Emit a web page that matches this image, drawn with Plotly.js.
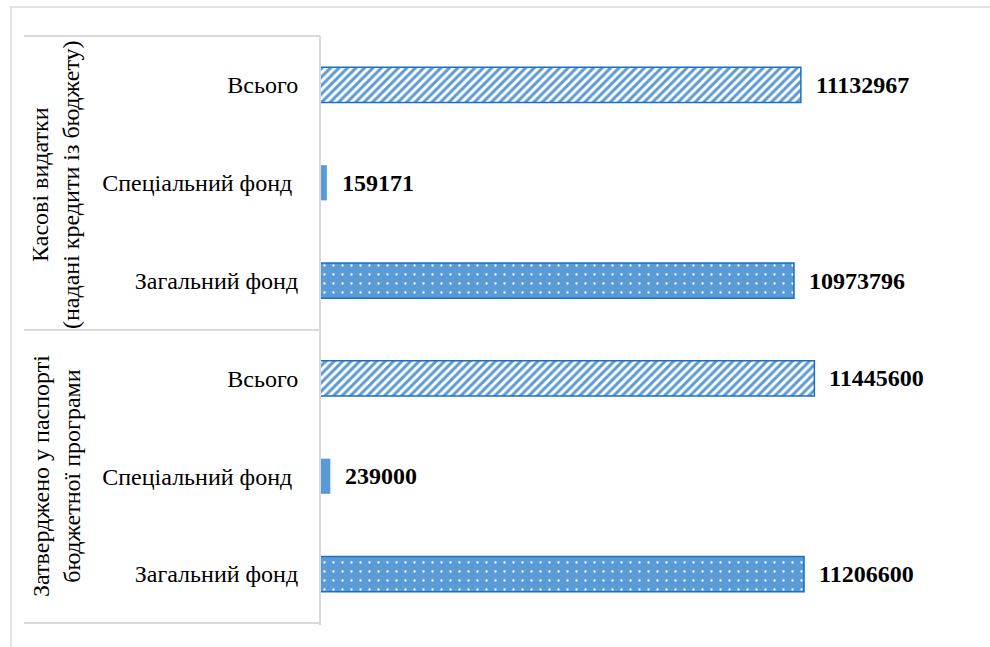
<!DOCTYPE html>
<html>
<head>
<meta charset="utf-8">
<script src="https://cdn.plot.ly/plotly-3.0.1.min.js"></script>
<style>html,body{margin:0;padding:0;background:#fff;}#chart{width:990px;height:647px;}</style>
</head>
<body>
<div id="chart"></div>
<script>
// Data (top to bottom)
const groups = ["Касові видатки<br>(надані кредити із бюджету)", "Затверджено у паспорті<br>бюджетної програми"];
const categories = ["Всього", "Спеціальний фонд", "Загальний фонд"];
const cashValues = [11132967, 159171, 10973796];
const approvedValues = [11445600, 239000, 11206600];

const groupValues = [cashValues, approvedValues];
const keys = [], labels = [], values = [];
groups.forEach((g, gi) => {
  categories.forEach((c, ci) => {
    keys.push("g" + gi + "|" + c);
    labels.push(c);
    values.push(groupValues[gi][ci]);
  });
});

const FONT = "Liberation Serif";
const blue = "#5B9BD5";
const edge = "#1C6FC2";
const styleByCat = {
  "Всього": {pattern: {shape: "/", fgcolor: blue, bgcolor: "#ffffff", solidity: 0.5, size: 6}, color: "#ffffff", line: {color: edge, width: 1.5}},
  "Спеціальний фонд": {pattern: null, color: blue, line: {color: blue, width: 0}},
  "Загальний фонд": {pattern: {shape: ".", fgcolor: "#ffffff", bgcolor: blue, solidity: 0.05, size: 9}, color: blue, line: {color: edge, width: 1.5}}
};

const traces = categories.map(c => {
  const s = styleByCat[c];
  const xs = [], ys = [];
  keys.forEach((k, i) => { if (labels[i] === c) { xs.push(values[i]); ys.push(k); } });
  const marker = {color: s.color, line: s.line};
  if (s.pattern) marker.pattern = s.pattern;
  return {type: "bar", orientation: "h", x: xs, y: ys, marker: marker, hoverinfo: "none", name: c};
});

// layout geometry helpers (pixels -> paper)
const L = 320, R = 980, T = 36, B = 623;
const px = v => (v - L) / (R - L);
const py = v => (B - v) / (B - T);
const grey = "#D9D9D9";

const annotations = keys.map((k, i) => ({
  x: values[i], y: k, xref: "x", yref: "y",
  text: "<b>" + String(values[i]) + "</b>",
  showarrow: false, xanchor: "left", yanchor: "middle", xshift: 13,
  font: {family: FONT, size: 24, color: "#000"}
}));
annotations.push({
  x: px(56), y: py(185), xref: "paper", yref: "paper",
  text: groups[0], textangle: -90, showarrow: false,
  xanchor: "center", yanchor: "middle",
  font: {family: FONT, size: 24, color: "#000"}
});
annotations.push({
  x: px(56), y: py(476), xref: "paper", yref: "paper",
  text: groups[1], textangle: -90, showarrow: false,
  xanchor: "center", yanchor: "middle",
  font: {family: FONT, size: 24, color: "#000"}
});

const shapes = [
  {type: "rect", xref: "paper", yref: "paper", x0: px(11), x1: 1.2, y0: py(7), y1: -0.2, line: {color: grey, width: 1.5}},
  {type: "line", xref: "paper", yref: "paper", x0: px(24), x1: 0, y0: py(36), y1: py(36), line: {color: grey, width: 2}},
  {type: "line", xref: "paper", yref: "paper", x0: px(24), x1: 0, y0: py(330), y1: py(330), line: {color: grey, width: 2}},
  {type: "line", xref: "paper", yref: "paper", x0: px(24), x1: 0, y0: py(623), y1: py(623), line: {color: grey, width: 2}},
  {type: "line", xref: "paper", yref: "paper", x0: 0, x1: 0, y0: py(36), y1: py(625), line: {color: grey, width: 2}}
];

const layout = {
  width: 990, height: 647,
  margin: {l: L, r: 990 - R, t: T, b: 647 - B, pad: 0},
  paper_bgcolor: "#fff", plot_bgcolor: "#fff",
  showlegend: false,
  barmode: "overlay",
  bargap: 0.64,
  font: {family: FONT, size: 24, color: "#000"},
  xaxis: {range: [0, 15280000], showgrid: false, zeroline: false, showline: false, showticklabels: false, ticks: "", fixedrange: true},
  yaxis: {
    type: "category",
    categoryorder: "array", categoryarray: keys,
    tickmode: "array", tickvals: keys,
    ticktext: labels.map(l => l === "Спеціальний фонд" ? l + "\u00A0" : l),
    autorange: "reversed",
    showgrid: false, zeroline: false, showline: false,
    ticks: "outside", ticklen: 16, tickcolor: "rgba(0,0,0,0)",
    tickfont: {family: FONT, size: 24, color: "#000"},
    fixedrange: true
  },
  annotations: annotations,
  shapes: shapes
};

Plotly.newPlot("chart", traces, layout, {staticPlot: true, displayModeBar: false});
</script>
</body>
</html>
